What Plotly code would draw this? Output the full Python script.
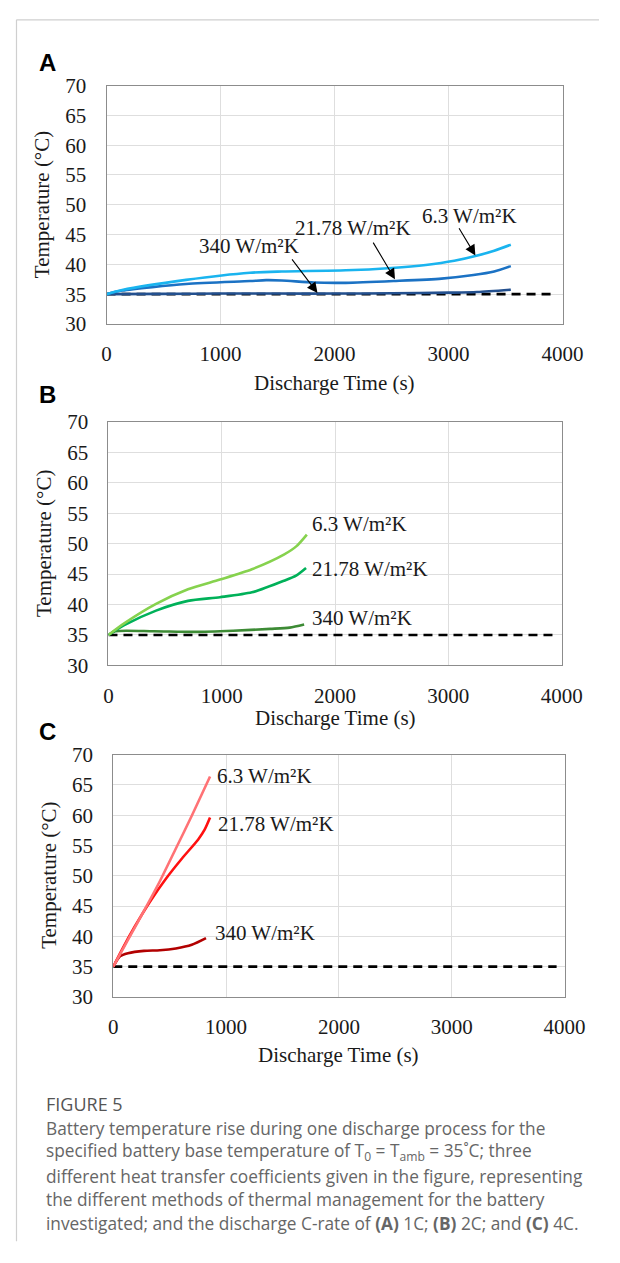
import plotly.graph_objects as go

W, H = 620, 1263

# ---------------- data ----------------
# Panel A (1C)
a_t_63 = [0, 137, 697, 1258, 1538, 2098, 2500, 2800, 3050, 3235, 3400, 3546]
a_T_63 = [35, 35.7, 37.4, 38.6, 38.8, 39.0, 39.4, 39.9, 40.6, 41.4, 42.3, 43.3]
a_t_2178 = [0, 137, 697, 1258, 1400, 1538, 1818, 2098, 2518, 2938, 3218, 3400, 3546]
a_T_2178 = [35, 35.6, 36.7, 37.2, 37.35, 37.3, 36.95, 36.9, 37.2, 37.6, 38.2, 38.8, 39.7]
a_t_340 = [0, 500, 1000, 1500, 2000, 2500, 3000, 3250, 3546]
a_T_340 = [35, 35.05, 35.1, 35.1, 35.1, 35.15, 35.25, 35.35, 35.75]

# Panel B (2C)
b_t_63 = [0, 139, 420, 702, 984, 1266, 1548, 1660, 1751]
b_T_63 = [35, 36.9, 40.1, 42.5, 44.1, 45.8, 48.2, 49.6, 51.5]
b_t_2178 = [0, 139, 420, 702, 984, 1266, 1548, 1660, 1744]
b_T_2178 = [35, 36.6, 39.0, 40.6, 41.2, 42.0, 43.9, 44.8, 46.0]
b_t_340 = [0, 60, 400, 758, 1100, 1427, 1600, 1727]
b_T_340 = [35, 35.6, 35.6, 35.5, 35.7, 36.0, 36.2, 36.7]

# Panel C (4C)
c_t_63 = [0, 130, 272, 413, 555, 696, 858]
c_T_63 = [35, 39.4, 44.2, 49.1, 54.5, 59.9, 66.4]
c_t_2178 = [0, 74, 187, 328, 470, 611, 753, 810, 858]
c_T_2178 = [35, 37.7, 41.5, 45.8, 49.6, 52.9, 56.0, 57.6, 59.6]
c_t_340 = [0, 60, 130, 272, 413, 555, 696, 822]
c_T_340 = [35, 36.7, 37.2, 37.6, 37.7, 38.0, 38.6, 39.7]

# ambient reference line
amb_t = [0, 3930]
amb_T = [35, 35]

series_names = ["6.3 W/m²K", "21.78 W/m²K", "340 W/m²K"]
x_ticks = [0, 1000, 2000, 3000, 4000]
y_ticks = [30, 35, 40, 45, 50, 55, 60, 65, 70]

# label positions (data coords)
a_label_t = [3185, 2165, 1252]
a_label_T = [48.1, 46.1, 43.0]
a_arrow_head_t = [3235, 2530, 1850]
a_arrow_head_T = [41.5, 37.5, 35.2]
a_arrow_tail_t = [3084, 2331, 1617]
a_arrow_tail_T = [46.3, 43.9, 41.1]
b_label_t = [1776, 1776, 1776]
b_label_T = [53.3, 45.9, 37.8]
c_label_t = [900, 913, 880]
c_label_T = [66.4, 58.5, 40.6]

# ---------------- styles ----------------
colors_a = ["#1ab4ef", "#1b72c4", "#23508f"]
colors_b = ["#86d24e", "#00b159", "#3d8b35"]
colors_c = ["#ff7275", "#ff1010", "#b20000"]
SERIF = "Liberation Serif"
TXT = "#1a1a1a"
FS = 21


def fx(px):
    return px / W


def fy(py):
    return 1 - py / H


panels = [
    # (suffix, left, right, top, bottom)
    ("", 106, 582, 75, 318),
    ("2", 108, 581, 418, 666),
    ("3", 113, 584, 757, 1004),
]

fig = go.Figure()

data_sets = [
    ([(a_t_63, a_T_63), (a_t_2178, a_T_2178), (a_t_340, a_T_340)], colors_a),
    ([(b_t_63, b_T_63), (b_t_2178, b_T_2178), (b_t_340, b_T_340)], colors_b),
    ([(c_t_63, c_T_63), (c_t_2178, c_T_2178), (c_t_340, c_T_340)], colors_c),
]

for (suf, l, r, t, b), (sets, cols) in zip(panels, data_sets):
    xa = "x" + suf
    ya = "y" + suf
    fig.add_trace(go.Scatter(x=amb_t, y=amb_T, mode="lines", xaxis=xa, yaxis=ya,
                             line=dict(color="black", width=2.6, dash="9px,6px"),
                             showlegend=False, hoverinfo="skip"))
    for (tt, TT), col, name in list(zip(sets, cols, series_names))[::-1]:
        fig.add_trace(go.Scatter(x=tt, y=TT, mode="lines", name=name, xaxis=xa, yaxis=ya,
                                 line=dict(color=col, width=2.6, shape="spline", smoothing=0.7),
                                 showlegend=False))

layout = dict(
    width=W, height=H,
    margin=dict(l=0, r=0, t=0, b=0),
    paper_bgcolor="white", plot_bgcolor="white",
    showlegend=False,
    font=dict(family=SERIF, size=FS, color=TXT),
)

annotations = []
shapes = []
for (suf, l, r, t, b) in panels:
    xkey = "xaxis" + suf
    ykey = "yaxis" + suf
    layout[xkey] = dict(
        domain=[fx(l), fx(r)], anchor="y" + suf, range=[0, 4000],
        tickvals=x_ticks, ticktext=[str(v) for v in x_ticks],
        showgrid=True, gridcolor="#dedede", gridwidth=1,
        showline=True, linecolor="#8c8c8c", linewidth=1.2, mirror=True,
        ticks="outside", ticklen=11, tickcolor="rgba(0,0,0,0)",
        tickfont=dict(family=SERIF, size=FS, color=TXT), zeroline=False,
        fixedrange=True,
    )
    layout[ykey] = dict(
        domain=[fy(b), fy(t)], anchor="x" + suf, range=[30, 70],
        tickvals=y_ticks, ticktext=[str(v) for v in y_ticks],
        showgrid=True, gridcolor="#dedede", gridwidth=1,
        showline=True, linecolor="#8c8c8c", linewidth=1.2, mirror=True,
        ticks="outside", ticklen=15, tickcolor="rgba(0,0,0,0)",
        tickfont=dict(family=SERIF, size=FS, color=TXT), zeroline=False,
        fixedrange=True,
    )

# axis titles
x_title_y = [378, 720, 1063]
y_title_x = [38, 40, 46]
for (suf, l, r, t, b), xty, ytx in zip(panels, x_title_y, y_title_x):
    annotations.append(dict(xref="paper", yref="paper", x=fx((l + r) / 2), y=fy(xty),
                            text="Discharge Time (s)", showarrow=False,
                            xanchor="center", yanchor="middle",
                            font=dict(family=SERIF, size=FS, color=TXT)))
    annotations.append(dict(xref="paper", yref="paper", x=fx(ytx), y=fy((t + b) / 2),
                            text="Temperature (°C)", showarrow=False, textangle=-90,
                            xanchor="center", yanchor="middle",
                            font=dict(family=SERIF, size=FS, color=TXT)))

# panel letters
for letter, py in zip(["A", "B", "C"], [51, 390, 733]):
    annotations.append(dict(xref="paper", yref="paper", x=fx(44), y=fy(py), text="<b>%s</b>" % letter,
                            showarrow=False, xanchor="center", yanchor="middle",
                            font=dict(family="Liberation Sans", size=24, color="black")))

# Panel A labels with arrows
for i in range(3):
    annotations.append(dict(xref="x", yref="y", x=a_label_t[i], y=a_label_T[i], text=series_names[i],
                            showarrow=False, xanchor="center", yanchor="middle",
                            font=dict(family=SERIF, size=FS, color=TXT)))
    annotations.append(dict(xref="x", yref="y", x=a_arrow_head_t[i], y=a_arrow_head_T[i],
                            axref="x", ayref="y", ax=a_arrow_tail_t[i], ay=a_arrow_tail_T[i],
                            text="", showarrow=True, arrowhead=2, arrowsize=1.9, arrowwidth=1.1,
                            arrowcolor="black", standoff=0, startstandoff=0))
# Panel B labels
for i in range(3):
    annotations.append(dict(xref="x2", yref="y2", x=b_label_t[i], y=b_label_T[i], text=series_names[i],
                            showarrow=False, xanchor="left", yanchor="middle",
                            font=dict(family=SERIF, size=FS, color=TXT)))
# Panel C labels
for i in range(3):
    annotations.append(dict(xref="x3", yref="y3", x=c_label_t[i], y=c_label_T[i], text=series_names[i],
                            showarrow=False, xanchor="left", yanchor="middle",
                            font=dict(family=SERIF, size=FS, color=TXT)))

# caption
CAP_FONT = "Open Sans"
CAP_COL = "#666666"
annotations.append(dict(xref="paper", yref="paper", x=fx(41), y=fy(1113), text="FIGURE 5",
                        showarrow=False, xanchor="left", yanchor="middle",
                        font=dict(family=CAP_FONT, size=18, color="#555555")))
caption_lines = [
    "Battery temperature rise during one discharge process for the",
    "specified battery base temperature of T<sub>0</sub> = T<sub>amb</sub> = 35˚C; three",
    "different heat transfer coefficients given in the figure, representing",
    "the different methods of thermal management for the battery",
    "investigated; and the discharge C-rate of <b>(A)</b> 1C; <b>(B)</b> 2C; and <b>(C)</b> 4C.",
]
caption_y = [1138, 1162, 1187, 1211, 1235]
for line, py in zip(caption_lines, caption_y):
    annotations.append(dict(xref="paper", yref="paper", x=fx(41), y=fy(py), text=line,
                            showarrow=False, xanchor="left", yanchor="middle",
                            font=dict(family=CAP_FONT, size=17.3, color=CAP_COL)))

# card border lines
shapes.append(dict(type="line", xref="paper", yref="paper", x0=fx(12), x1=fx(620), y0=fy(8), y1=fy(8),
                   line=dict(color="#cfcfcf", width=1.2)))
shapes.append(dict(type="line", xref="paper", yref="paper", x0=fx(12), x1=fx(12), y0=fy(8), y1=fy(1253),
                   line=dict(color="#cfcfcf", width=1.2)))

layout["annotations"] = annotations
layout["shapes"] = shapes
fig.update_layout(**layout)

fig.write_html("out.html", config={"displayModeBar": False},
               post_script="document.body.style.margin='0';document.body.style.overflow='hidden';")
